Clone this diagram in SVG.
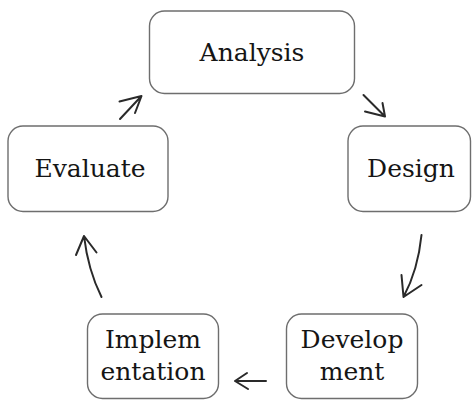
<svg xmlns="http://www.w3.org/2000/svg" width="474" height="401" viewBox="0 0 474 401">
<style>
.box{fill:#fff;stroke:#6e6e6e;stroke-width:1.4}
.lbl{font-family:"DejaVu Serif","Liberation Serif",serif;font-size:25px;fill:#151515;text-anchor:middle}
.arr{fill:none;stroke:#2a2a2a;stroke-width:2;stroke-linecap:round;stroke-linejoin:round}
</style>
<rect width="474" height="401" fill="#fff"/>
<g id="analysis">
<rect class="box" x="149.5" y="11" width="205" height="82.5" rx="15"/>
<text class="lbl" x="252" y="61">Analysis</text>
</g>
<g id="design">
<rect class="box" x="348" y="126" width="122.5" height="85.5" rx="15"/>
<text class="lbl" x="411" y="177">Design</text>
</g>
<g id="development">
<rect class="box" x="286.5" y="314" width="131" height="84.5" rx="15"/>
<text class="lbl" x="352" y="348">Develop</text>
<text class="lbl" x="352" y="380">ment</text>
</g>
<g id="implementation">
<rect class="box" x="87.5" y="314" width="131" height="84.5" rx="15"/>
<text class="lbl" x="153" y="348">Implem</text>
<text class="lbl" x="153" y="380">entation</text>
</g>
<g id="evaluate">
<rect class="box" x="8" y="126" width="160" height="85.5" rx="15"/>
<text class="lbl" x="90" y="177">Evaluate</text>
</g>
<g id="connectors">
<path class="arr" d="M363.5 95 L385 116.5 M365 111.5 L385 116.5 L382.5 103"/>
<path class="arr" d="M421.5 235 Q418 270 403.5 297 M401.5 275 L403.5 297 L421.5 285"/>
<path class="arr" d="M266 381 L235 381 M247 373 L235 381 L248 389"/>
<path class="arr" d="M101.5 297 Q88 270 84 236 M76 255 L84 236 L96.5 252.5"/>
<path class="arr" d="M120 119 L141.5 96 M119.5 101.5 L141.5 96 L135 113"/>
</g>
</svg>
